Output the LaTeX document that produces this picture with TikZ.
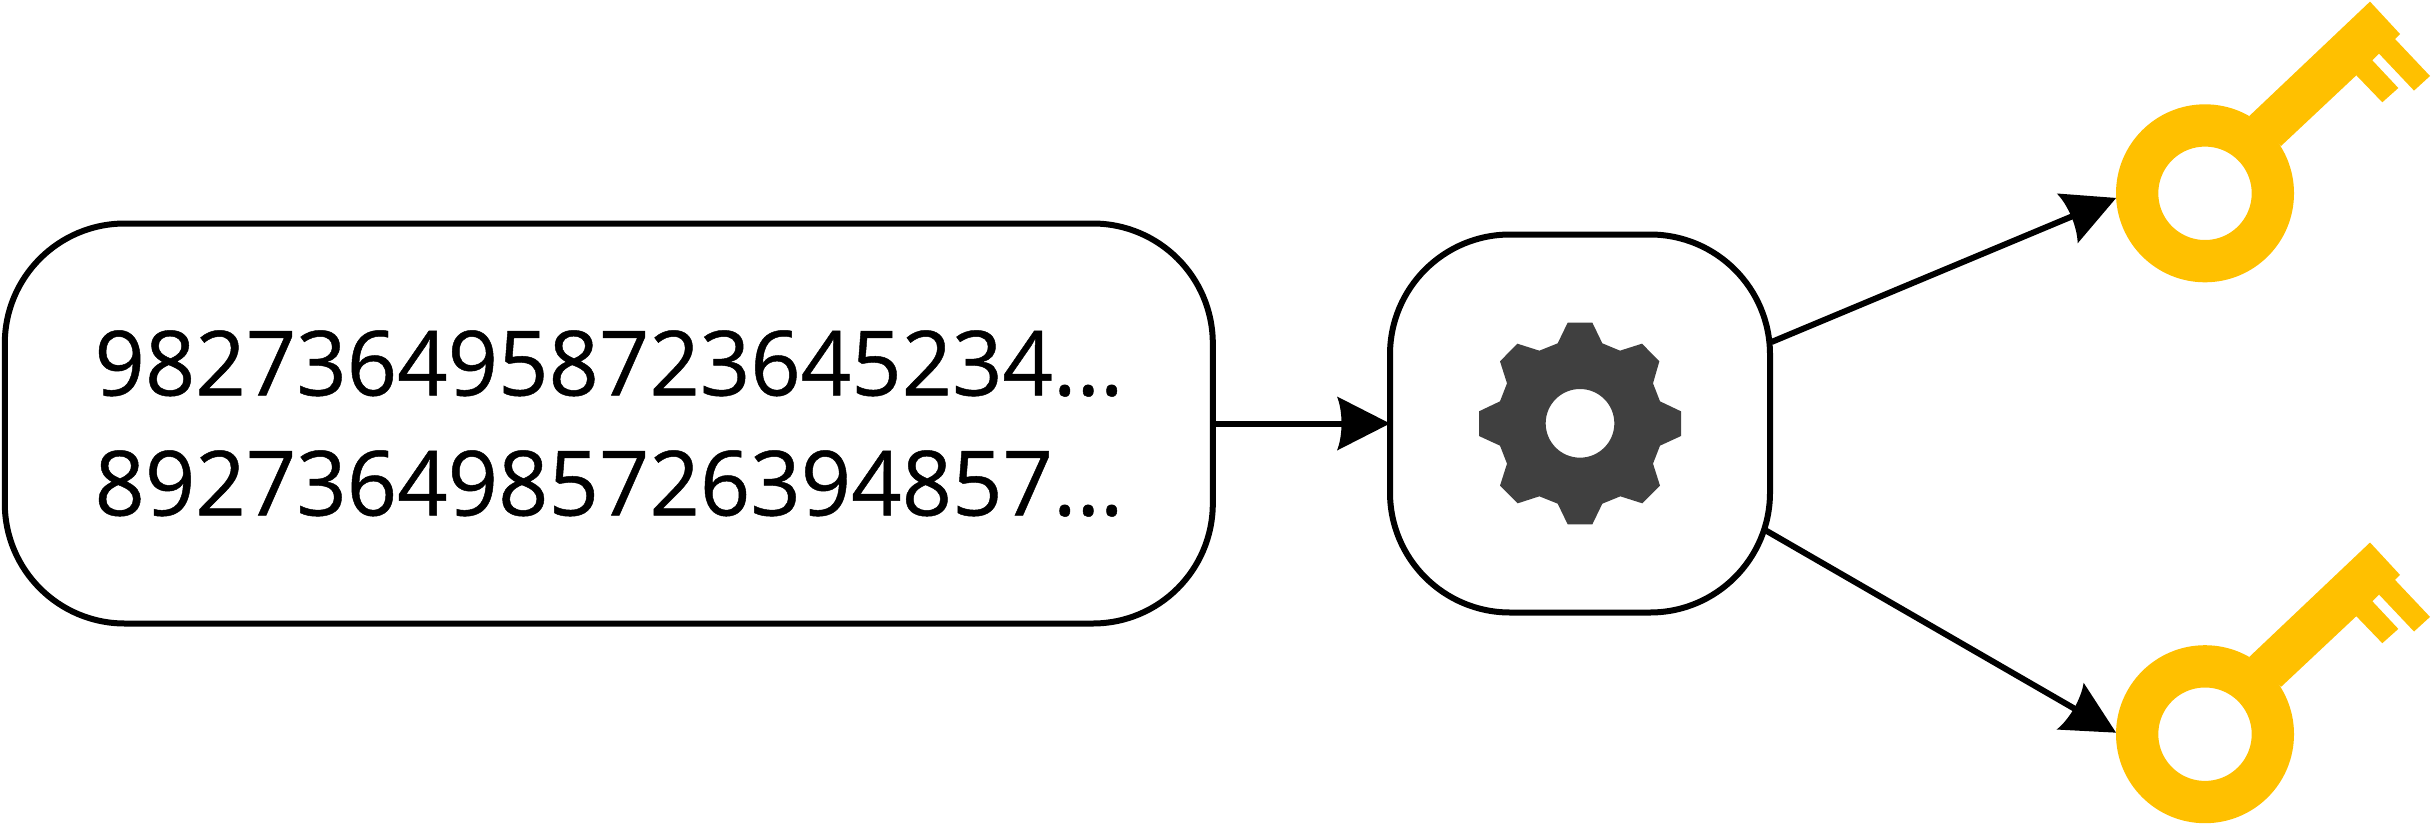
\documentclass[tikz,border=0pt]{standalone}
\usepackage{fontspec}
\setmainfont[FakeStretch=0.98,FakeBold=0.5]{Open Sans}
\usetikzlibrary{arrows.meta}
\pgfdeclarearrow{
  name=CurvedHead,
  setup code={
    \pgfarrowssettipend{0pt}
    \pgfarrowssetbackend{-53pt}
    \pgfarrowssetlineend{-45pt}
    \pgfarrowssetvisualbackend{-46pt}
    \pgfarrowshullpoint{0pt}{0pt}
    \pgfarrowshullpoint{-53pt}{27pt}
    \pgfarrowshullpoint{-53pt}{-27pt}
  },
  drawing code={
    \pgfpathmoveto{\pgfqpoint{0pt}{0pt}}
    \pgfpathlineto{\pgfqpoint{-53pt}{27pt}}
    \pgfpathcurveto{\pgfqpoint{-47pt}{12pt}}{\pgfqpoint{-47pt}{-12pt}}{\pgfqpoint{-53pt}{-27pt}}
    \pgfpathclose
    \pgfsetfillcolor{black}
    \pgfusepathqfill
  },
  defaults={}
}
\definecolor{keygold}{HTML}{FFC000}
\definecolor{geargrey}{HTML}{404040}
\tikzset{
  x=1pt,y=-1pt,
  roundbox/.style={draw=black,line width=6pt,fill=white,rectangle,rounded corners=120pt,outer sep=0pt,inner sep=0pt},
  conn/.style={draw=black,line width=6pt,-{CurvedHead}},
  keyring/.style={circle,draw=keygold,line width=42.3pt,minimum size=135.7pt,inner sep=0pt},
  keyicon/.pic={
    \fill[keygold] (44.3,-77.3) -- (165,-191.7) -- (195,-159.3) -- (190,-154.3) -- (225,-117.3)
      -- (209,-102.7) -- (174,-139.7) -- (167.3,-133) -- (193.3,-105.3) -- (177.3,-91)
      -- (151.3,-118) -- (76,-47.3) -- cycle;
  }
}
\begin{document}
\begin{tikzpicture}
\useasboundingbox (0,0) rectangle (2431,825);
\node[roundbox,minimum width=1208pt,minimum height=400pt,align=center,
  font=\fontsize{90}{120}\selectfont] (src) at (608.8,423.5)
  {9827364958723645234...\\8927364985726394857...};
\node[roundbox,minimum width=380pt,minimum height=378pt] (proc) at (1580,423.5) {};
\fill[geargrey,even odd rule,shift={(1380,220)},x=0.33333pt,y=-0.33333pt]
  (563,308) -- (637,308) -- (667,370) -- (720,392) -- (786,371) -- (838,424) -- (819,490)
  -- (840,544) -- (903,574) -- (903,648) -- (840,677) -- (819,731) -- (840,797) -- (787,850)
  -- (721,829) -- (667,851) -- (637,913) -- (563,913) -- (533,851) -- (478,829) -- (413,850)
  -- (360,797) -- (381,731) -- (360,677) -- (297,648) -- (297,574) -- (360,544) -- (381,490)
  -- (360,424) -- (412,371) -- (478,392) -- (533,370) -- cycle
  (600,610) circle (103);
\pic at (2205,193.3) {keyicon};
\node[keyring] (key1) at (2205,193.3) {};
\pic at (2205,734.2) {keyicon};
\node[keyring] (key2) at (2205,734.2) {};
\coordinate (procup) at (1771.5,342);
\coordinate (proclow) at (1765,530);
\draw[conn] (src.east) -- (proc.west);
\draw[conn] (procup) -- (key1.183.7);
\draw[conn] (proclow) -- (key2.179.4);
\end{tikzpicture}
\end{document}
